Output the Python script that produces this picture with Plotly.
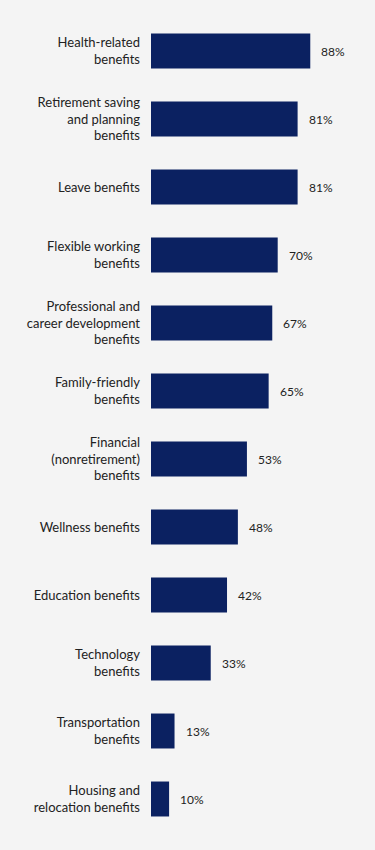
import plotly.graph_objects as go

categories = [
    "Health-related<br>benefits",
    "Retirement saving<br>and planning<br>benefits",
    "Leave benefits",
    "Flexible working<br>benefits",
    "Professional and<br>career development<br>benefits",
    "Family-friendly<br>benefits",
    "Financial<br>(nonretirement)<br>benefits",
    "Wellness benefits",
    "Education benefits",
    "Technology<br>benefits",
    "Transportation<br>benefits",
    "Housing and<br>relocation benefits",
]
values = [88, 81, 81, 70, 67, 65, 53, 48, 42, 33, 13, 10]
value_labels = [f"{v}%" for v in values]

BAR = "#0b2161"
BG = "#f4f4f4"
TXT = "#222222"
FONT = "Lato, Open Sans, sans-serif"

fig = go.Figure(
    go.Bar(
        x=values,
        y=categories,
        orientation="h",
        marker=dict(color=BAR, line=dict(width=0)),
        hoverinfo="skip",
    )
)

for c, v, lab in zip(categories, values, value_labels):
    fig.add_annotation(
        x=v, y=c, text=lab, showarrow=False, xanchor="left", xshift=9,
        font=dict(family=FONT, size=12, color=TXT),
    )

fig.update_layout(
    width=375, height=850,
    margin=dict(l=151, r=43, t=17, b=17),
    paper_bgcolor=BG, plot_bgcolor=BG,
    bargap=0.486,
    showlegend=False,
    font=dict(family=FONT, size=13, color=TXT),
    xaxis=dict(range=[0, 100], visible=False, fixedrange=True),
    yaxis=dict(
        autorange="reversed", showgrid=False, zeroline=False, showline=False,
        ticks="", ticklabelstandoff=10, fixedrange=True,
        tickfont=dict(family=FONT, size=13, color=TXT),
    ),
)

fig.write_html(
    "out.html",
    config={"displayModeBar": False},
    post_script="document.body.style.margin='0';document.body.style.background='#f4f4f4';",
)
